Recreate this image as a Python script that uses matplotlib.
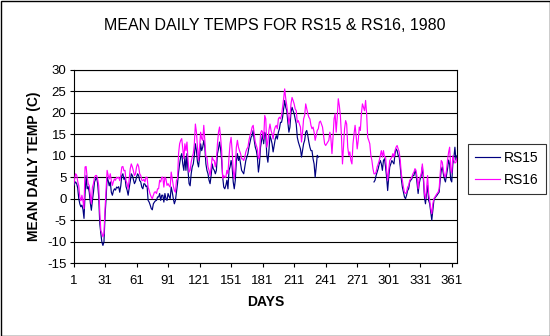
import matplotlib
matplotlib.use('Agg')
import matplotlib.pyplot as plt
import numpy as np
from matplotlib.patches import Rectangle

plt.rcParams['font.family'] = ['Liberation Sans', 'DejaVu Sans']
plt.rcParams['axes.unicode_minus'] = False

title = 'MEAN DAILY TEMPS FOR RS15 & RS16, 1980'
x_label = 'DAYS'
y_label = 'MEAN DAILY TEMP (C)'
series_names = ['RS15', 'RS16']
x_ticks = list(range(1, 367, 30))
y_ticks = list(range(-15, 31, 5))
days = list(range(1, 367))

N = None
rs15 = [
    2.9, 3.5, 3.9, 3.5, 2.5, 0.0, -1.2, -1.9, -1.5, -2.5,
    -4.6, 1.2, 5.4, 2.3, 2.8, 1.5, -1.0, -2.7, -0.4, 1.5,
    3.9, 4.5, 5.0, 3.5, 0.4, -5.8, -8.1, -10.1, -10.9, -10.1,
    -4.0, 0.0, 5.0, 4.2, 3.0, 3.9, 1.5, 0.8, 1.8, 2.3,
    2.0, 2.7, 2.5, 2.8, 1.5, 3.0, 5.4, 5.8, 4.5, 5.0,
    2.8, 2.0, 0.8, 2.5, 4.0, 5.8, 5.4, 4.5, 3.5, 4.0,
    5.0, 5.8, 5.4, 4.2, 3.9, 2.7, 2.3, 3.5, 3.4, 2.8,
    3.0, -0.4, -0.8, -1.5, -2.3, -2.6, -1.2, -0.8, -0.5, -0.4,
    0.4, 0.4, 1.2, -0.4, 0.8, 0.8, -0.8, 1.2, 0.0, -0.4,
    1.2, 0.5, 0.0, 2.7, 1.5, 0.0, -1.2, -0.4, 1.5, 3.5,
    6.2, 8.1, 9.7, 10.5, 8.1, 6.6, 9.7, 6.6, 10.5, 6.6,
    3.5, 3.0, 5.8, 7.4, 8.1, 10.1, 12.8, 11.2, 8.5, 7.4,
    9.7, 12.8, 11.2, 12.0, 13.6, 12.0, 8.1, 6.6, 5.8, 4.3,
    3.5, 5.4, 8.1, 7.0, 6.6, 5.8, 6.6, 10.5, 11.6, 13.2,
    11.6, 8.9, 5.0, 2.7, 2.3, 3.1, 4.3, 2.3, 6.6, 7.4,
    8.9, 7.4, 3.9, 2.3, 4.3, 8.9, 10.5, 8.9, 9.7, 8.1,
    6.6, 6.2, 5.8, 7.4, 8.9, 9.7, 10.5, 12.0, 13.2, 14.3,
    14.7, 15.9, 13.6, 12.0, 11.2, 9.7, 6.2, 8.1, 12.0, 13.6,
    15.1, 12.8, 15.5, 14.7, 10.1, 8.5, 11.2, 14.7, 13.9, 12.8,
    10.9, 12.4, 13.9, 14.7, 13.9, 15.5, 16.3, 17.8, 17.8, 19.0,
    20.9, 22.9, 21.3, 20.5, 17.8, 15.5, 16.7, 20.2, 21.3, 20.5,
    19.8, 18.6, 17.4, 14.3, 13.2, 12.4, 11.6, 9.7, 11.2, 12.8,
    13.6, 15.5, 15.9, 14.7, 13.2, 12.0, 11.2, 11.2, 9.3, 8.1,
    5.0, 7.4, 10.1, 9.7, N, N, N, N, N, N,
    N, N, N, N, N, N, N, N, N, N,
    N, N, N, N, N, N, N, N, N, N,
    N, N, N, N, N, N, N, N, N, N,
    N, N, N, N, N, N, N, N, N, N,
    N, N, N, N, N, N, 3.9, 4.3, 5.4, 6.2,
    7.0, 8.1, 8.9, 8.1, 6.6, 8.9, 9.3, 7.4, 5.0, 1.9,
    5.0, 7.4, 8.1, 8.9, 8.5, 8.1, 10.5, 11.6, 11.2, 10.1,
    9.7, 7.4, 4.6, 2.7, 1.5, 0.4, 0.0, 0.8, 1.9, 2.3,
    3.9, 4.3, 4.6, 5.4, 5.4, 6.6, 5.8, 3.5, 1.2, 3.5,
    4.6, 5.4, 7.4, 4.6, 0.4, -1.2, 1.2, 3.1, -0.4, -1.2,
    -3.1, -5.0, -2.7, -0.4, 0.2, 0.5, 0.8, 1.2, 1.5, 4.3,
    6.6, 7.4, 5.8, 4.6, 3.9, 5.4, 7.0, 9.0, 8.0, 4.4,
    3.9, 8.0, 9.5, 12.0, 9.0, 10.0,
]
rs16 = [
    3.0, 4.5, 5.8, 5.5, 4.0, 3.0, 0.4, -0.5, 0.8, -0.5,
    -2.3, 7.4, 7.5, 5.0, 3.5, 3.0, 1.0, -1.2, 2.7, 3.5,
    5.0, 5.4, 5.4, 4.5, 3.0, -3.1, -7.4, -8.0, -8.9, -8.1,
    -2.5, 2.0, 6.6, 5.4, 4.6, 5.8, 4.2, 3.1, 4.0, 4.6,
    4.3, 5.0, 4.8, 5.0, 4.2, 5.5, 7.4, 7.5, 6.5, 6.6,
    4.2, 3.5, 2.3, 4.5, 7.0, 8.1, 7.4, 6.5, 5.4, 5.8,
    7.4, 8.1, 7.5, 5.8, 5.4, 4.3, 4.2, 4.5, 3.9, 5.0,
    5.0, 2.7, 1.9, 1.0, 0.4, 0.0, 0.8, 1.5, 1.6, 1.2,
    2.3, 2.3, 4.3, 3.9, 5.0, 5.0, 2.7, 5.0, 4.6, 3.1,
    3.5, 3.0, 2.7, 6.2, 4.6, 3.0, 1.9, 1.5, 4.3, 4.6,
    10.5, 12.8, 13.6, 14.0, 11.6, 9.3, 12.8, 11.2, 13.2, 8.9,
    6.2, 6.6, 8.5, 9.7, 10.5, 12.8, 17.4, 15.5, 12.0, 8.9,
    12.0, 15.5, 14.0, 13.6, 17.1, 13.6, 9.7, 9.7, 7.4, 6.6,
    5.4, 7.4, 9.7, 9.0, 8.9, 7.4, 8.9, 12.8, 15.5, 16.7,
    14.3, 11.2, 4.7, 5.4, 5.0, 5.0, 6.6, 5.8, 9.7, 12.8,
    14.3, 11.2, 6.6, 4.6, 7.4, 12.0, 13.6, 12.0, 11.2, 10.5,
    9.3, 9.3, 8.9, 9.7, 10.9, 11.6, 12.0, 13.6, 14.7, 15.5,
    16.7, 17.1, 15.1, 13.2, 12.4, 11.6, 9.3, 9.7, 15.1, 15.9,
    15.5, 13.9, 19.4, 18.6, 12.0, 13.2, 15.9, 17.4, 15.9, 15.1,
    13.9, 15.9, 16.7, 17.1, 16.3, 18.6, 19.0, 18.6, 19.4, 21.3,
    23.3, 25.6, 23.3, 21.7, 19.8, 17.4, 19.0, 22.1, 23.6, 22.9,
    22.1, 20.9, 20.5, 17.8, 18.2, 17.4, 16.7, 13.2, 15.5, 18.6,
    19.4, 22.1, 20.9, 19.8, 19.0, 18.6, 17.1, 16.3, 16.7, 15.5,
    13.6, 14.7, 15.9, 16.3, 17.8, 18.1, 17.4, 16.7, 14.7, 12.8,
    12.4, 12.8, 13.2, 13.6, 15.5, 14.0, 10.5, 14.3, 18.6, 19.8,
    15.5, 19.0, 23.3, 21.7, 19.4, 14.7, 8.1, 12.0, 16.3, 18.2,
    17.4, 12.0, 10.1, 10.9, 8.9, 8.1, 12.8, 15.1, 17.1, 14.7,
    11.6, 13.6, 16.7, 15.9, 19.8, 22.1, 21.3, 20.5, 22.9, 19.8,
    14.3, 13.6, 12.8, 10.1, 8.9, 7.0, 5.8, 5.8, 6.2, 7.4,
    8.1, 8.9, 10.1, 11.2, 9.7, 11.2, 9.7, 9.7, 6.6, 4.3,
    6.6, 8.9, 9.3, 9.7, 10.5, 9.7, 11.2, 12.0, 12.4, 11.6,
    10.9, 8.9, 5.8, 4.3, 2.7, 1.5, 1.2, 1.5, 2.7, 3.1,
    4.3, 4.6, 5.0, 5.8, 6.2, 7.0, 6.6, 5.0, 2.3, 4.6,
    5.0, 5.8, 8.1, 5.8, 1.2, 0.0, 2.3, 5.4, 1.2, -0.4,
    -2.3, -3.5, -1.2, 0.0, 0.4, 0.8, 1.2, 1.5, 2.3, 5.8,
    8.9, 8.5, 6.6, 5.4, 5.0, 6.6, 9.0, 10.8, 12.0, 7.0,
    6.0, 10.0, 9.0, 8.3, 8.5, 9.5,
]

W, H = 550, 336
fig = plt.figure(figsize=(W / 100, H / 100), dpi=100)
fig.patch.set_facecolor('white')

left, right, top, bottom = 73.5, 457, 70, 263
ax = fig.add_axes([left / W, 1 - bottom / H, (right - left) / W, (bottom - top) / H])

y15 = np.array([np.nan if v is None else v for v in rs15], dtype=float)
y16 = np.array([np.nan if v is None else v for v in rs16], dtype=float)

ax.plot(days, y15, color='#000080', lw=0.85, label=series_names[0], zorder=3)
ax.plot(days, y16, color='#FF00FF', lw=0.85, label=series_names[1], zorder=4)

ax.set_xlim(1, 366)
ax.set_ylim(-15, 30)
ax.set_xticks(x_ticks)
ax.set_yticks(y_ticks)
ax.grid(axis='y', color='black', lw=0.8)
ax.set_axisbelow(True)
for s in ax.spines.values():
    s.set_color('black')
    s.set_linewidth(0.8)
ax.tick_params(direction='out', length=3, width=0.8, labelsize=9.5, colors='black')
ax.tick_params(axis='x', pad=6)
ax.tick_params(axis='y', pad=2)

fig.text(0.5, 1 - 25 / H, title, ha='center', va='center', fontsize=11.5)
fig.text((left + right) / 2 / W, 1 - 302 / H, x_label, ha='center', va='center',
         fontsize=10, fontweight='bold')
fig.text(34 / W, 1 - 166 / H, y_label, ha='center', va='center', rotation=90,
         fontsize=10, fontweight='bold')

leg = fig.legend(loc='upper left', bbox_to_anchor=(468 / W, 1 - 144 / H),
                 frameon=True, fancybox=False, shadow=False, fontsize=10,
                 handlelength=1.8, handletextpad=0.3, borderpad=0.5,
                 labelspacing=0.6, borderaxespad=0)
leg.get_frame().set_edgecolor('black')
leg.get_frame().set_linewidth(0.8)

fig.add_artist(Rectangle((0.5 / W, 0.5 / H), (W - 1) / W, (H - 1) / H,
                         transform=fig.transFigure, fill=False,
                         edgecolor='black', lw=1))

fig.savefig('out.png', dpi=100)
